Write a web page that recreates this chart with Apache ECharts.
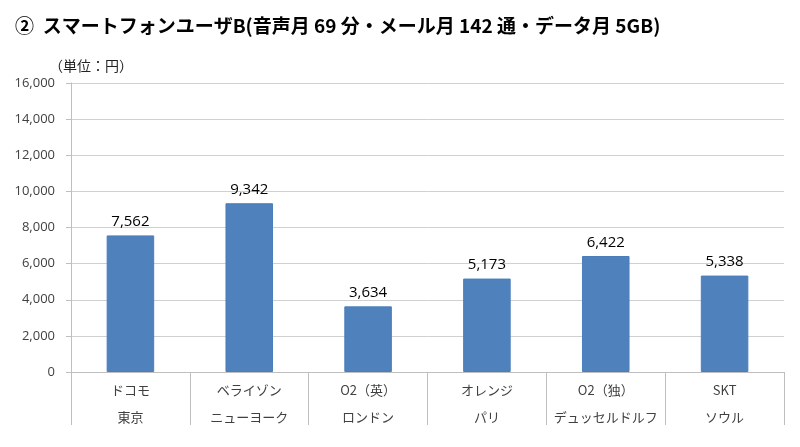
<!DOCTYPE html>
<html>
<head>
<meta charset="utf-8">
<script src="https://cdn.jsdelivr.net/npm/echarts@6/dist/echarts.min.js"></script>
<style>html,body{margin:0;padding:0;background:#fff;}#c{width:800px;height:447px;}</style>
</head>
<body>
<div id="c"></div>
<script>
const carriers = ['ドコモ', 'ベライゾン', 'O2（英）', 'オレンジ', 'O2（独）', 'SKT'];
const cities = ['東京', 'ニューヨーク', 'ロンドン', 'パリ', 'デュッセルドルフ', 'ソウル'];
const values = [7562, 9342, 3634, 5173, 6422, 5338];
const titleText = '②  スマートフォンユーザB(音声月 69 分・メール月 142 通・データ月 5GB)';
const unitText = '（単位：円）';

function fmt(v) { return String(v).replace(/\B(?=(\d{3})+(?!\d))/g, ','); }

const categories = carriers.map((c, i) => c + '\n' + cities[i]);
const chart = echarts.init(document.getElementById('c'));
chart.setOption({
  animation: false,
  backgroundColor: '#fff',
  title: [{
    text: titleText,
    left: 10, top: 11,
    textStyle: { fontSize: 19, fontWeight: 'bold', color: '#000', fontFamily: 'Noto Sans CJK JP' }
  }, {
    text: unitText,
    left: 44, top: 54,
    textStyle: { fontSize: 14, fontWeight: 'normal', color: '#222', fontFamily: 'Noto Sans CJK JP' }
  }],
  grid: { left: 71, right: 16, top: 83, bottom: 75 },
  xAxis: {
    type: 'category',
    data: categories,
    axisLine: { show: true, lineStyle: { color: '#bfbfbf', width: 1 } },
    axisTick: { show: true, interval: 0, length: 53, lineStyle: { color: '#bfbfbf' } },
    axisLabel: {
      interval: 0, margin: 5, fontSize: 13, lineHeight: 27, color: '#404040',
      fontFamily: 'Noto Sans CJK JP'
    }
  },
  yAxis: {
    type: 'value',
    min: 0, max: 16000, interval: 2000,
    axisLine: { show: true, lineStyle: { color: '#bfbfbf' } },
    axisTick: { show: true, length: 5, lineStyle: { color: '#bfbfbf' } },
    axisLabel: { margin: 16, fontSize: 13, color: '#404040', fontFamily: 'Open Sans', formatter: v => fmt(v) },
    splitLine: { show: true, lineStyle: { color: '#d0d0d0', width: 1 } }
  },
  series: [{
    type: 'bar',
    data: values,
    barWidth: '40%',
    itemStyle: { color: '#4F81BD', borderColor: '#4A7EBB', borderWidth: 1 },
    label: {
      show: true, position: 'top', distance: 6, fontSize: 15, color: '#000',
      fontFamily: 'Open Sans', formatter: p => fmt(p.value)
    }
  }]
});
</script>
</body>
</html>
